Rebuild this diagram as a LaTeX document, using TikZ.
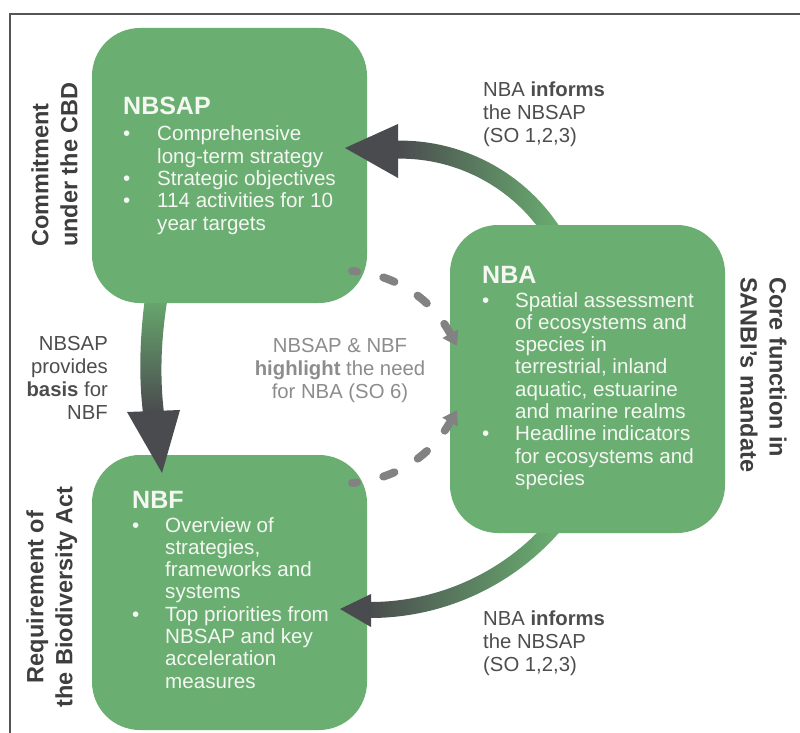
\documentclass[tikz,border=0pt]{standalone}
\usepackage{fontspec}
\setmainfont{Liberation Sans}
\usetikzlibrary{arrows.meta}
\definecolor{boxgreen}{RGB}{106,175,113}
\definecolor{arrowdark}{RGB}{74,75,78}
\definecolor{dashgray}{RGB}{130,130,130}
\definecolor{labelgray}{RGB}{77,77,77}
\definecolor{sidegray}{RGB}{62,62,62}
\definecolor{lightlabel}{RGB}{140,140,140}
\definecolor{boxtextc}{RGB}{244,247,242}
\definecolor{framegray}{RGB}{85,85,85}
\begin{document}
\begin{tikzpicture}[x=1pt,y=-1pt,
  box/.style={fill=boxgreen, draw=none, rounded corners=48pt, inner sep=0pt},
  boxhead/.style={font=\fontsize{25}{28}\selectfont\bfseries, text=boxtextc, inner sep=0pt},
  boxbody/.style={font=\fontsize{20.6}{22.3}\selectfont, text=boxtextc, inner sep=0pt},
  lbl/.style={font=\fontsize{20.3}{23}\selectfont, text=labelgray, inner sep=0pt},
  lblc/.style={font=\fontsize{20.3}{23}\selectfont, text=lightlabel, inner sep=0pt},
  side/.style={font=\fontsize{23.5}{29}\selectfont\bfseries, text=sidegray, inner sep=0pt},
  dasharrow/.style={draw=dashgray, line width=8pt, line cap=round, dash pattern=on 12pt off 27pt, dash phase=7pt, -{Triangle[length=14pt,width=17pt]}},
  head/.style={fill=arrowdark, draw=none}
]
\useasboundingbox (0,0) rectangle (800,733);
% frame
\draw[framegray, line width=2pt] (10,733) -- (10,14) -- (800,14);

% shafts of the thick arrows (drawn below the boxes)
\coordinate (topc) at (400,331.6);
\shade[left color=arrowdark, right color=boxgreen]
  (topc) ++(-31:191) arc[start angle=-31, end angle=-91, radius=191]
  -- ++(-91:-18) arc[start angle=-91, end angle=-31, radius=173] -- cycle;
\coordinate (botc) at (370,366);
\shade[left color=arrowdark, right color=boxgreen]
  (botc) ++(41:252) arc[start angle=41, end angle=91, radius=252]
  -- ++(91:-16) arc[start angle=91, end angle=41, radius=236] -- cycle;
\shade[top color=boxgreen, bottom color=arrowdark]
  (146,290) .. controls (139,340) and (139,380) .. (143,413)
  -- (164,413) .. controls (160,380) and (160,340) .. (169,290) -- cycle;

% boxes
\node[box, minimum width=275pt, minimum height=275pt] (nbsap) at (229.5,165.5) {};
\node[box, minimum width=275pt, minimum height=275pt] (nbf) at (229.5,592.5) {};
\node[box, minimum width=275pt, minimum height=308pt] (nba) at (587.5,379) {};

% arrow heads
\fill[head] (398,124) -- (398,178) -- (345,148) -- cycle;
\fill[head] (371,594) -- (371,627) -- (340,609) -- cycle;
\fill[head] (127,412) -- (180,410) -- (162,473) -- cycle;

% dashed arrows
\coordinate (u1) at (352,271); \coordinate (u2) at (457,346);
\draw[dasharrow] (u1) .. controls (398,275) and (432,300) .. (u2);
\coordinate (l1) at (352,483); \coordinate (l2) at (457,410);
\draw[dasharrow] (l1) .. controls (398,479) and (432,454) .. (l2);

% box texts
\node[boxhead, anchor=base west] (nbsaph) at (123,115) {NBSAP};
\node[boxbody, anchor=base west] (nbsapb) at (123,141) {\begin{tabular}[t]{@{}p{34pt}@{}l@{}}
\textbullet & Comprehensive\\
 & long-term strategy\\
\textbullet & Strategic objectives\\
\textbullet & 114 activities for 10\\
 & year targets
\end{tabular}};

\node[boxhead, anchor=base west] (nbah) at (482,283) {NBA};
\node[boxbody, anchor=base west] (nbab) at (482,307) {\begin{tabular}[t]{@{}p{33pt}@{}l@{}}
\textbullet & Spatial assessment\\
 & of ecosystems and\\
 & species in\\
 & terrestrial, inland\\
 & aquatic, estuarine\\
 & and marine realms\\
\textbullet & Headline indicators\\
 & for ecosystems and\\
 & species
\end{tabular}};

\node[boxhead, anchor=base west] (nbfh) at (132,508) {NBF};
\node[boxbody, anchor=base west] (nbfb) at (132,532) {\begin{tabular}[t]{@{}p{33pt}@{}l@{}}
\textbullet & Overview of\\
 & strategies,\\
 & frameworks and\\
 & systems\\
\textbullet & Top priorities from\\
 & NBSAP and key\\
 & acceleration\\
 & measures
\end{tabular}};

% arrow labels
\node[lbl, anchor=base west] (toplbl) at (483,97) {\begin{tabular}[t]{@{}l@{}}NBA \textbf{informs}\\the NBSAP\\(SO 1,2,3)\end{tabular}};
\node[lbl, anchor=base west] (botlbl) at (483,625) {\begin{tabular}[t]{@{}l@{}}NBA \textbf{informs}\\the NBSAP\\(SO 1,2,3)\end{tabular}};
\node[lbl, anchor=base east] (leftlbl) at (108,350) {\begin{tabular}[t]{@{}r@{}}NBSAP\\provides\\\textbf{basis} for\\NBF\end{tabular}};
\node[lblc, anchor=base] (midlbl) at (340,352) {\begin{tabular}[t]{@{}c@{}}NBSAP \& NBF\\\textbf{highlight} the need\\for NBA (SO 6)\end{tabular}};

% side labels
\node[side, rotate=90, anchor=west] (cbd) at (57,247) {\begin{tabular}[t]{@{}l@{}}Commitment\\under the CBD\end{tabular}};
\node[side, rotate=90, anchor=center] (act) at (52,597) {\begin{tabular}[t]{@{}c@{}}Requirement of\\the Biodiversity Act\end{tabular}};
\node[side, rotate=-90, anchor=west] (sanbi) at (761,277) {\begin{tabular}[t]{@{}l@{}}Core function in\\SANBI's mandate\end{tabular}};
\end{tikzpicture}
\end{document}
